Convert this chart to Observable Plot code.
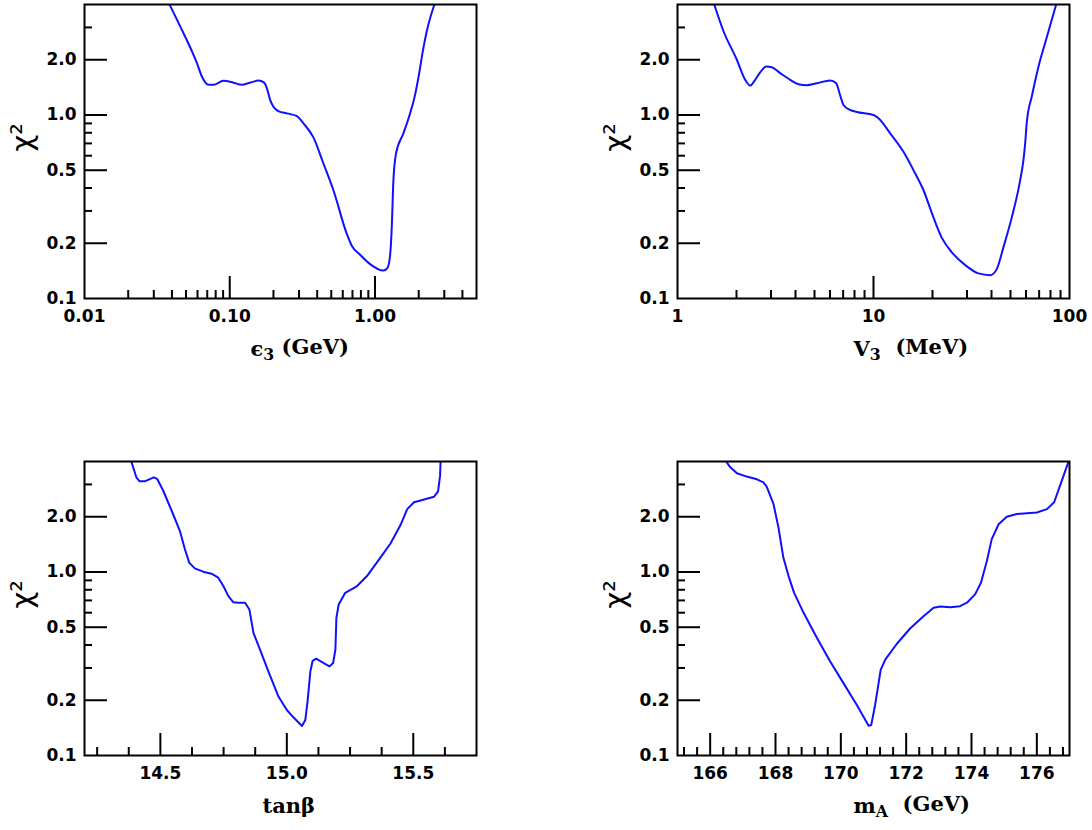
<!DOCTYPE html>
<html><head><meta charset="utf-8">
<script src="https://cdn.jsdelivr.net/npm/d3@7"></script>
<script src="https://cdn.jsdelivr.net/npm/@observablehq/plot@0.6"></script>
<style>
html,body{margin:0;padding:0;background:#fff;}
body{width:1092px;height:830px;overflow:hidden;position:relative;}
.panel{position:absolute;}
</style>
</head><body>
<div id="p1" class="panel" style="left:0px;top:0px"></div>
<div id="p2" class="panel" style="left:593px;top:0px"></div>
<div id="p3" class="panel" style="left:0px;top:457px"></div>
<div id="p4" class="panel" style="left:593px;top:457px"></div>
<script>
// ---------- data ----------
const eps3X = [0.0385,0.0456,0.0594,0.0643,0.0714,0.0772,0.0905,0.106,0.121,0.138,0.1576,0.1726,0.18,0.1897,0.1999,0.2163,0.247,0.2897,0.3216,0.3767,0.4416,0.5175,0.6397,0.692,0.79,0.925,1.142,1.217,1.27,1.305,1.339,1.396,1.569,1.744,1.888,1.989,2.155,2.273,2.564];
const eps3Chi = [4.0,3.04,1.92,1.62,1.46,1.46,1.535,1.50,1.46,1.50,1.54,1.50,1.40,1.21,1.11,1.05,1.02,0.987,0.90,0.755,0.544,0.389,0.225,0.194,0.173,0.154,0.142,0.1466,0.171,0.2446,0.44,0.617,0.794,1.02,1.287,1.59,2.32,2.86,4.0];

const v3X = [1.54,1.717,2.008,2.214,2.349,2.49,2.64,2.834,3.029,3.34,3.757,4.143,4.57,5.14,6.01,6.45,6.71,7.03,7.6,8.22,10.0,10.6,12.17,14.22,16.32,17.99,20.2,22.32,25.1,29.4,34.3,39.4,42.6,46.0,50.8,56.0,58.2,59.4,60.6,64.2,69.5,75.1,85.5];
const v3Chi = [4.0,2.86,2.0,1.555,1.447,1.555,1.705,1.839,1.82,1.69,1.555,1.472,1.454,1.49,1.54,1.49,1.314,1.134,1.065,1.038,1.0,0.959,0.794,0.63,0.48,0.389,0.2776,0.214,0.1786,0.152,0.137,0.134,0.145,0.19,0.2776,0.44,0.567,0.70,0.92,1.26,1.84,2.47,4.0];

const tanbX = [14.385,14.405,14.418,14.438,14.474,14.487,14.511,14.55,14.577,14.597,14.614,14.636,14.669,14.702,14.729,14.749,14.769,14.788,14.808,14.835,14.852,14.868,14.894,14.927,14.967,15.0,15.026,15.06,15.073,15.082,15.093,15.102,15.116,15.146,15.169,15.183,15.192,15.196,15.205,15.231,15.278,15.317,15.37,15.41,15.45,15.476,15.503,15.536,15.582,15.598,15.606,15.608];
const tanbChi = [4.0,3.28,3.12,3.12,3.28,3.22,2.78,2.07,1.677,1.33,1.125,1.047,1.004,0.979,0.931,0.838,0.739,0.685,0.68,0.68,0.625,0.466,0.377,0.287,0.2095,0.177,0.1615,0.1448,0.156,0.197,0.287,0.328,0.337,0.319,0.306,0.319,0.377,0.562,0.665,0.77,0.838,0.95,1.198,1.43,1.808,2.2,2.40,2.47,2.57,2.75,3.35,4.0];

const mAX = [166.49,166.61,166.82,167.12,167.43,167.63,167.73,167.94,168.09,168.24,168.4,168.57,168.86,169.27,169.67,170.08,170.49,170.85,170.93,171.05,171.22,171.36,171.71,172.12,172.53,172.84,173.04,173.35,173.65,173.86,174.11,174.29,174.47,174.62,174.83,175.08,175.39,176.0,176.31,176.53,176.8,176.97];
const mAChi = [4.0,3.73,3.45,3.31,3.2,3.08,2.92,2.34,1.75,1.198,0.95,0.77,0.599,0.437,0.326,0.248,0.1886,0.1453,0.1465,0.1886,0.293,0.333,0.405,0.492,0.574,0.638,0.649,0.643,0.651,0.68,0.755,0.874,1.148,1.51,1.82,2.0,2.07,2.11,2.2,2.40,3.28,4.0];

// ---------- ticks / labels ----------
const yLabelTicks = [0.1,0.2,0.5,1,2];
const yMajorTicks = [0.2,0.5,1,2];
const yMinorTicks = [0.3,0.4,0.6,0.7,0.8,0.9,3];
const yTitle = "χ²";

const eps3LabelTicks = [0.01,0.1,1];
const eps3MajorTicks = [0.1,1];
const eps3MinorTicks = [0.02,0.03,0.04,0.05,0.06,0.07,0.08,0.09,0.2,0.3,0.4,0.5,0.6,0.7,0.8,0.9,2,3,4];
const eps3Title = "ϵ_3 (GeV)";

const v3LabelTicks = [1,10,100];
const v3MajorTicks = [10];
const v3MinorTicks = [2,3,4,5,6,7,8,9,20,30,40,50,60,70,80,90];
const v3Title = "V_3  (MeV)";

const tanbLabelTicks = [14.5,15.0,15.5];
const tanbMajorTicks = [14.5,15.0,15.5];
const tanbMinorTicks = [14.25,14.375,14.625,14.75,14.875,15.125,15.25,15.375,15.625];
const tanbTitle = "tanβ";

const mALabelTicks = [166,168,170,172,174,176];
const mAMajorTicks = [166,168,170,172,174,176];
const mAMinorTicks = [165.2,165.6,166.4,166.8,167.2,167.6,168.4,168.8,169.2,169.6,170.4,170.8,171.2,171.6,172.4,172.8,173.2,173.6,174.4,174.8,175.2,175.6,176.4,176.8];
const mATitle = "m_A  (GeV)";

// ---------- drawing ----------
const BLUE = "#1010ff";
const tickFont = "DejaVu Sans, sans-serif";
const titleFont = "DejaVu Serif, serif";
const blank = () => "";

function panel(el, o) {
  const data = o.xs.map((x, i) => ({x, y: o.ys[i]}));
  const svg = Plot.plot({
    width: 498,
    height: o.height,
    marginLeft: 84, marginRight: 22, marginTop: 4, marginBottom: o.height - 298,
    x: {type: o.xType, domain: o.xDomain},
    y: {type: "log", domain: [0.1, 4]},
    style: {background: "transparent", fontFamily: tickFont, color: "black", overflow: "visible"},
    marks: [
      Plot.line(data, {x: "x", y: "y", stroke: BLUE, strokeWidth: 2, curve: o.curve, clip: true}),
      Plot.axisY({ticks: yMajorTicks, tickSize: -23, tickFormat: blank, label: null, strokeWidth: 2}),
      Plot.axisY({ticks: yMinorTicks, tickSize: -8, tickFormat: blank, label: null, strokeWidth: 2}),
      Plot.axisY({ticks: yLabelTicks, tickSize: 0, tickPadding: 8, tickFormat: d3.format(".1f"), label: null, fontSize: 17, fontWeight: "bold"}),
      Plot.axisX({ticks: o.major, tickSize: -22, tickFormat: blank, label: null, strokeWidth: 2}),
      Plot.axisX({ticks: o.minor, tickSize: -8, tickFormat: blank, label: null, strokeWidth: 2}),
      Plot.axisX({ticks: o.labels, tickSize: 0, tickPadding: 11, tickFormat: o.format, label: null, fontSize: 17, fontWeight: "bold"}),
      Plot.frame({stroke: "black", strokeWidth: 2}),
      Plot.text([yTitle], {text: d => d, frameAnchor: "left", dx: -62, rotate: -90, fontSize: 29, fontFamily: tickFont}),
      Plot.text([o.title], {text: d => d, frameAnchor: "bottom-left", textAnchor: "start", dx: o.titleDx, dy: 57, fontSize: 21, fontWeight: "bold", fontFamily: titleFont})
    ]
  });
  // turn "_x" into a subscript
  d3.select(svg).selectAll("text").each(function() {
    const t = this.textContent;
    if (t.includes("_")) {
      const m = t.match(/^(.*?)_(.)(.*)$/);
      const s = d3.select(this);
      s.text(null);
      s.append("tspan").text(m[1]);
      s.append("tspan").attr("dy", "0.3em").attr("font-size", "75%").text(m[2]);
      s.append("tspan").attr("dy", "-0.3em").text(m[3].replace(/ /g, "\u00a0"));
    }
  });
  document.getElementById(el).append(svg);
}

panel("p1", {xs: eps3X, ys: eps3Chi, xType: "log", xDomain: [0.01, 5], labels: eps3LabelTicks, major: eps3MajorTicks, minor: eps3MinorTicks, format: d3.format(".2f"), title: eps3Title, titleDx: 166, height: 380, curve: "monotone-x"});
panel("p2", {xs: v3X, ys: v3Chi, xType: "log", xDomain: [1, 100], labels: v3LabelTicks, major: v3MajorTicks, minor: v3MinorTicks, format: d3.format("d"), title: v3Title, titleDx: 176, height: 380, curve: "monotone-x"});
panel("p3", {xs: tanbX, ys: tanbChi, xType: "linear", xDomain: [14.2, 15.75], labels: tanbLabelTicks, major: tanbMajorTicks, minor: tanbMinorTicks, format: d3.format(".1f"), title: tanbTitle, titleDx: 178, height: 373, curve: "linear"});
panel("p4", {xs: mAX, ys: mAChi, xType: "linear", xDomain: [165, 177], labels: mALabelTicks, major: mAMajorTicks, minor: mAMinorTicks, format: d3.format("d"), title: mATitle, titleDx: 176, height: 373, curve: "linear"});
</script>
</body></html>
